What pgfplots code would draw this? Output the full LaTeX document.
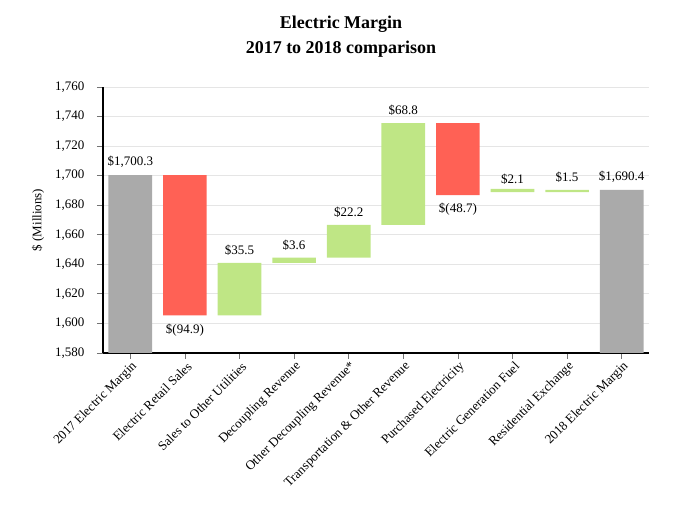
\documentclass[border=0pt]{standalone}
\usepackage{pgfplots}
\usepackage{pgfplotstable}
\pgfplotsset{compat=1.18}
\usepackage{fontspec}
\setmainfont{Liberation Serif}
\definecolor{totgray}{RGB}{170,170,170}
\definecolor{negred}{RGB}{255,97,85}
\definecolor{posgreen}{RGB}{191,230,133}
\definecolor{gridgray}{RGB}{229,229,229}

\pgfplotstableread{
x base total dec inc
0 0 1700.3 0 0
1 1605.4 0 94.9 0
2 1605.4 0 0 35.5
3 1640.9 0 0 3.6
4 1644.5 0 0 22.2
5 1666.7 0 0 68.8
6 1686.8 0 48.7 0
7 1688.9 0 0 2.1
8 1688.9 0 0 1.5
9 0 1690.4 0 0
}\wfdata

\tikzset{lab/.style={font=\fontsize{13}{15}\selectfont, inner sep=0pt}}

\begin{document}
\begin{tikzpicture}
\useasboundingbox (-103pt,-175pt) rectangle (579pt,353pt);
\begin{axis}[
  scale only axis, width=546pt, height=266pt,
  xmin=-0.5, xmax=9.5, ymin=1580, ymax=1760,
  ybar stacked, bar width=0.8,
  ytick={1580,1600,...,1760},
  xtick={0,...,9},
  xticklabels={2017 Electric Margin, Electric Retail Sales, Sales to Other Utilities, Decoupling Revenue, Other Decoupling Revenue*, Transportation \& Other Revenue, Purchased Electricity, Electric Generation Fuel, Residential Exchange, 2018 Electric Margin},
  axis x line*=bottom, axis y line*=left,
  axis line style={black, line width=1.5pt},
  tick align=outside, major tick length=6pt,
  tick style={black!55, line width=0.8pt},
  ymajorgrids, grid style={gridgray, line width=0.8pt},
  scaled y ticks=false,
  /pgf/number format/assume math mode=true,
  /pgf/number format/1000 sep={,},
  ticklabel style={font=\fontsize{13}{15}\selectfont},
  xticklabel style={rotate=45, anchor=east, xshift=3pt, yshift=-7pt},
  yticklabel style={xshift=-9pt},
  ylabel={\$ (Millions)},
  every axis y label/.style={at={(axis description cs:0,0.5)}, xshift=-65pt, rotate=90, anchor=center, font=\fontsize{13}{15}\selectfont},
]
\addplot[draw=none, fill=none] table[x=x, y=base] {\wfdata};
\addplot[draw=none, fill=totgray] table[x=x, y=total] {\wfdata};
\addplot[draw=none, fill=negred] table[x=x, y=dec] {\wfdata};
\addplot[draw=none, fill=posgreen] table[x=x, y=inc] {\wfdata};
\node[lab, anchor=south, yshift=7pt] at (axis cs:0,1700.3) {\$1,700.3};
\node[lab, anchor=north, yshift=-8pt] at (axis cs:1,1605.4) {\$(94.9)};
\node[lab, anchor=south, yshift=7pt] at (axis cs:2,1640.9) {\$35.5};
\node[lab, anchor=south, yshift=7pt] at (axis cs:3,1644.5) {\$3.6};
\node[lab, anchor=south, yshift=7pt] at (axis cs:4,1666.7) {\$22.2};
\node[lab, anchor=south, yshift=7pt] at (axis cs:5,1735.5) {\$68.8};
\node[lab, anchor=north, yshift=-8pt] at (axis cs:6,1686.8) {\$(48.7)};
\node[lab, anchor=south, yshift=7pt] at (axis cs:7,1688.9) {\$2.1};
\node[lab, anchor=south, yshift=7pt] at (axis cs:8,1690.4) {\$1.5};
\node[lab, anchor=south, yshift=7pt] at (axis cs:9,1690.4) {\$1,690.4};
\end{axis}
\node[font=\bfseries\fontsize{18}{25}\selectfont, align=center] at (238pt,316pt) {Electric Margin\\2017 to 2018 comparison};
\end{tikzpicture}
\end{document}
